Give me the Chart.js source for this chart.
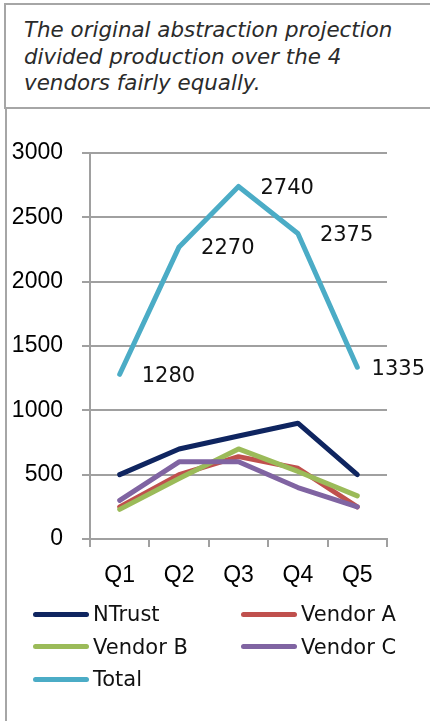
<!DOCTYPE html>
<html>
<head>
<meta charset="utf-8">
<script src="https://cdn.jsdelivr.net/npm/chart.js@4"></script>
<style>
  html, body { margin: 0; padding: 0; background: #fff; overflow: hidden; }
  #wrap { position: relative; width: 430px; height: 721px; }
  #titleBox {
    position: absolute; left: 4px; top: 3px; width: 440px; height: 106px;
    border: 2px solid #a6a6a6; box-sizing: border-box;
    font-family: "DejaVu Sans", sans-serif; font-style: italic; font-size: 21.4px;
    line-height: 26.5px; color: #2b2b2b; padding: 12px 0 0 18px;
  }
  #chartBox { position: absolute; left: 5px; top: 107px; width: 2px; height: 620px; background: #a6a6a6; }
  canvas { position: absolute; left: 0; top: 0; }
  #legend {
    position: absolute; left: 33px; top: 598px;
    display: grid; grid-template-columns: 208px 160px; grid-auto-rows: 32.5px;
    font-family: "DejaVu Sans", sans-serif; font-size: 21px; color: #111;
  }
  .item { display: flex; align-items: center; white-space: nowrap; }
  .swatch { width: 56px; height: 5px; border-radius: 3px; margin-right: 4px; }
</style>
</head>
<body>
<div id="wrap">
  <div id="titleBox">The original abstraction projection<br>divided production over the 4<br>vendors fairly equally.</div>
  <div id="chartBox"></div>
  <canvas id="myChart" width="430" height="721"></canvas>
  <div id="legend"></div>
</div>
<script>
// categorias y series
const quarters = ['Q1', 'Q2', 'Q3', 'Q4', 'Q5'];
const ntrust  = [500, 700, 800, 900, 500];
const vendorA = [250, 500, 640, 550, 250];
const vendorB = [230, 470, 700, 525, 335];
const vendorC = [300, 600, 600, 400, 250];
const total   = [1280, 2270, 2740, 2375, 1335];
const yMax = 3000;
const yStep = 500;

const tickFont = { family: '"Liberation Sans", Arial, sans-serif', size: 23 };
const gridGray = '#a0a0a0';

// etiquetas de datos para la serie Total
const totalLabels = {
  id: 'totalLabels',
  afterDatasetsDraw(chart) {
    const idx = chart.data.datasets.findIndex((d) => d.label === 'Total');
    const meta = chart.getDatasetMeta(idx);
    const ctx = chart.ctx;
    ctx.save();
    ctx.font = '21px "DejaVu Sans"';
    ctx.fillStyle = '#111';
    ctx.textBaseline = 'middle';
    meta.data.forEach((pt, i) => {
      const txt = String(chart.data.datasets[idx].data[i]);
      const w = ctx.measureText(txt).width;
      const x = Math.min(pt.x + 22, chart.width - w - 5);
      ctx.fillText(txt, x, pt.y + 2);
    });
    ctx.restore();
  }
};

const line = (label, data, color, order) => ({
  label, data, order,
  borderColor: color,
  backgroundColor: color,
  borderWidth: 5,
  borderCapStyle: 'round',
  borderJoinStyle: 'round',
  pointRadius: 0,
  tension: 0,
  fill: false,
});

const ctx = document.getElementById('myChart').getContext('2d');
const chart = new Chart(ctx, {
  type: 'line',
  data: {
    labels: quarters,
    datasets: [
      line('NTrust', ntrust, '#0f2560', 5),
      line('Vendor A', vendorA, '#c0504d', 4),
      line('Vendor B', vendorB, '#9bbb59', 3),
      line('Vendor C', vendorC, '#8064a2', 2),
      line('Total', total, '#4bacc6', 1),
    ],
  },
  options: {
    responsive: false,
    animation: false,
    layout: { padding: { top: 153, right: 43, bottom: 122, left: 0 } },
    plugins: {
      legend: { display: false },
      tooltip: { enabled: false },
    },
    scales: {
      x: {
        offset: true,
        grid: { offset: true, drawOnChartArea: false, drawTicks: true, tickLength: 8, color: gridGray, lineWidth: 2 },
        border: { display: true, color: gridGray, width: 2 },
        ticks: { font: tickFont, color: '#000', padding: 15, maxRotation: 0 },
        afterFit: (s) => { s.height = 60; },
      },
      y: {
        min: 0,
        max: yMax,
        grid: { color: gridGray, lineWidth: 2, tickLength: 8 },
        border: { display: true, color: gridGray, width: 2 },
        ticks: { stepSize: yStep, font: tickFont, color: '#000', padding: 19, callback: (v) => String(v) },
        afterFit: (s) => { s.width = 90; },
      },
    },
  },
  plugins: [totalLabels],
});

// leyenda HTML en dos columnas
const legendEl = document.getElementById('legend');
chart.data.datasets.forEach((ds) => {
  const item = document.createElement('div');
  item.className = 'item';
  const sw = document.createElement('span');
  sw.className = 'swatch';
  sw.style.background = ds.borderColor;
  item.appendChild(sw);
  item.appendChild(document.createTextNode(ds.label));
  legendEl.appendChild(item);
});
</script>
</body>
</html>
